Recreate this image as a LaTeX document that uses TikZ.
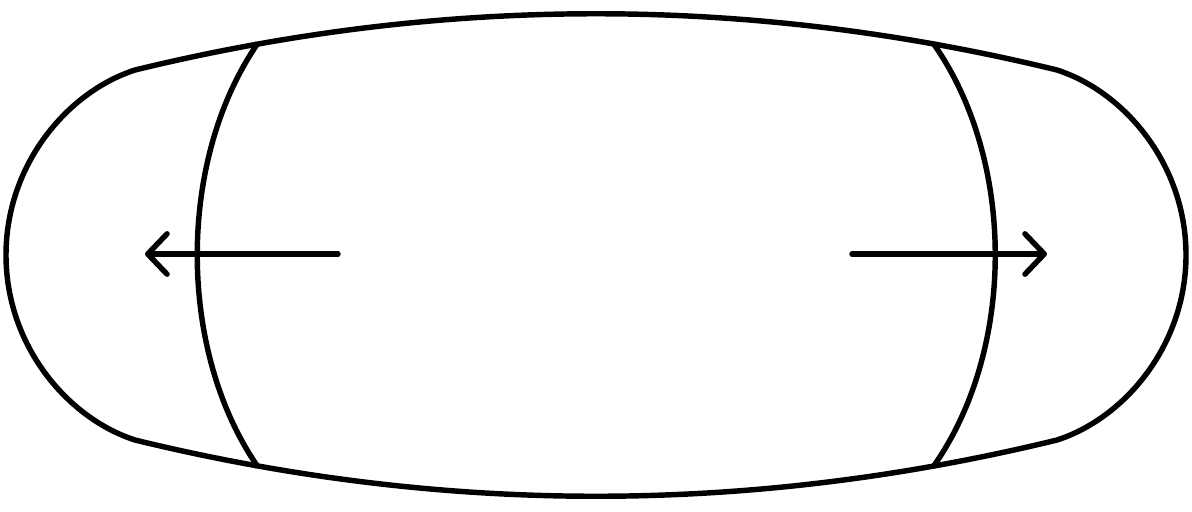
\documentclass[tikz,border=0pt]{standalone}
\usetikzlibrary{arrows.meta}
\begin{document}
\begin{tikzpicture}[x=0.02cm,y=-0.02cm,
  outline/.style={line width=3.1pt,line join=round},
  arrowline/.style={line width=3.1pt,line cap=round,-{Straight Barb[length=11pt,width=23pt,line cap=round,line join=round]}}]
\useasboundingbox (0,0) rectangle (1192,511);
% outer shell
\draw[outline] (135,70) .. controls (443,-5) and (749,-5) .. (1057,70)
  .. controls (1125,92) and (1186,165) .. (1186,255)
  .. controls (1186,345) and (1125,418) .. (1057,440)
  .. controls (749,515) and (443,515) .. (135,440)
  .. controls (67,418) and (6,345) .. (6,255)
  .. controls (6,165) and (67,92) .. (135,70) -- cycle;
% inner arcs
\coordinate (lt) at (258,43); \coordinate (lb) at (258,467);
\coordinate (rt) at (933,43); \coordinate (rb) at (933,467);
\draw[outline] (lt) .. controls (177,160) and (177,350) .. (lb);
\draw[outline] (rt) .. controls (1016,160) and (1016,350) .. (rb);
% arrows
\coordinate (a1) at (338,254); \coordinate (a2) at (145,254);
\coordinate (b1) at (852,254); \coordinate (b2) at (1047,254);
\draw[arrowline] (a1) -- (a2);
\draw[arrowline] (b1) -- (b2);
\end{tikzpicture}
\end{document}
